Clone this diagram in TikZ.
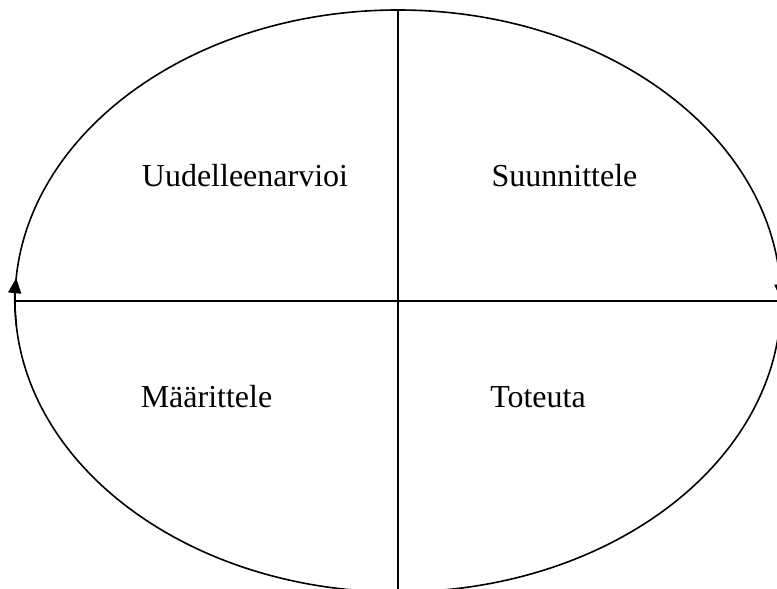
\documentclass[tikz,border=0pt]{standalone}
\usepackage{fontspec}
\setmainfont{Liberation Serif}
\usetikzlibrary{arrows.meta}
\begin{document}
\begin{tikzpicture}[x=1pt,y=1pt,
  lbl/.style={font=\fontsize{32}{38}\selectfont, inner sep=0pt, anchor=base},
  ln/.style={line width=1.6pt},
  tip/.style={-{Triangle[length=15pt,width=13pt]}, line width=1.6pt}]
\useasboundingbox (0,0) rectangle (777,589);
\coordinate (c) at (398,288);
\draw[ln] (c) ellipse [x radius=383, y radius=291];
\coordinate (top) at (398,579);
\coordinate (bot) at (398,0);
\coordinate (lft) at (15,288);
\coordinate (rgt) at (777,288);
\draw[ln] (top) -- (bot);
\draw[ln] (lft) -- (rgt);
\draw[tip] ([shift={(185:383 and 291)}]c) arc[start angle=185, end angle=175.5, x radius=383, y radius=291];
\draw[tip] ([shift={(5:383 and 291)}]c) arc[start angle=5, end angle=0.3, x radius=383, y radius=291];
\node[lbl] (q1) at (245,402) {Uudelleenarvioi};
\node[lbl] (q2) at (564.5,402) {Suunnittele};
\node[lbl] (q3) at (206.5,181) {Määrittele};
\node[lbl] (q4) at (538,181) {Toteuta};
\end{tikzpicture}
\end{document}
